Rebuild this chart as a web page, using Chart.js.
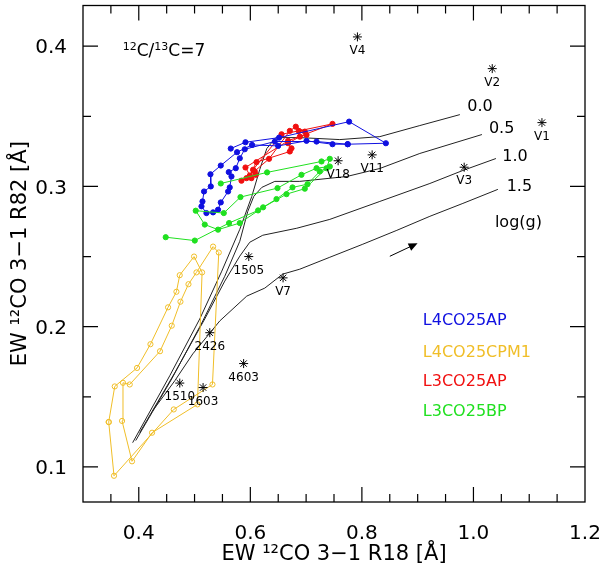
<!DOCTYPE html>
<html>
<head>
<meta charset="utf-8">
<script src="https://cdn.jsdelivr.net/npm/chart.js@4.4.0/dist/chart.umd.min.js"></script>
<style>
  html, body { margin: 0; padding: 0; background: #fff; }
  #wrap { width: 600px; height: 568px; }
</style>
</head>
<body>
<div id="wrap"><canvas id="c" width="600" height="568"></canvas></div>
<script>
// axis ticks
const xTicks = [0.3, 0.35, 0.4, 0.45, 0.5, 0.55, 0.6, 0.65, 0.7, 0.75, 0.8, 0.85, 0.9, 0.95, 1.0, 1.05, 1.1, 1.15, 1.2];
const xLabelTicks = [0.4, 0.6, 0.8, 1.0, 1.2];
const yTicks = [0.1, 0.15, 0.2, 0.25, 0.3, 0.35, 0.4];
const yLabelTicks = [0.1, 0.2, 0.3, 0.4];

// model sequences, one per log(g)
const gLabels = ['0.0', '0.5', '1.0', '1.5'];
const g00X = [0.389, 0.4555, 0.5093, 0.5488, 0.5811, 0.6026, 0.6169, 0.6295, 0.6456, 0.6887, 0.7604, 0.8322, 0.9039, 0.9757];
const g00Y = [0.1173, 0.165, 0.2055, 0.2396, 0.2694, 0.2929, 0.3121, 0.327, 0.3348, 0.3348, 0.3334, 0.3355, 0.3434, 0.3512];
const g05X = [0.3945, 0.4591, 0.5129, 0.5542, 0.5811, 0.5954, 0.6062, 0.6205, 0.6439, 0.6887, 0.773, 0.8322, 0.9039, 1.0152];
const g05Y = [0.1188, 0.1628, 0.2026, 0.236, 0.2609, 0.2822, 0.2929, 0.2993, 0.3036, 0.3036, 0.3071, 0.3128, 0.3235, 0.337];
const g10X = [0.4017, 0.4645, 0.5183, 0.5542, 0.5811, 0.599, 0.6223, 0.6833, 0.7425, 0.8322, 0.9219, 0.9811, 1.0403];
const g10Y = [0.1245, 0.1671, 0.2055, 0.2325, 0.2503, 0.2602, 0.2652, 0.2702, 0.2765, 0.2893, 0.3021, 0.3114, 0.3199];
const g15X = [0.425, 0.4645, 0.4968, 0.5452, 0.5936, 0.6259, 0.6582, 0.6887, 0.7425, 0.8017, 0.8627, 0.9219, 0.9811, 1.0438];
const g15Y = [0.1401, 0.1614, 0.1806, 0.2041, 0.2218, 0.2275, 0.2375, 0.241, 0.2495, 0.2588, 0.2687, 0.2787, 0.2879, 0.2979];
// where the log(g) values are written
const gLabelX = [0.9888, 1.0277, 1.0516, 1.0595];
const gLabelY = [0.3569, 0.341, 0.3208, 0.2995];

// observed stars
const starNames = ['V4', 'V2', 'V1', 'V3', 'V11', 'V18', 'V7', '1505', '2426', '4603', '1510', '1603'];
const starX = [0.792, 1.0337, 1.1228, 0.9834, 0.8184, 0.7574, 0.6587, 0.5972, 0.5273, 0.588, 0.4735, 0.5153];
const starY = [0.4066, 0.384, 0.3455, 0.3137, 0.3225, 0.3183, 0.2348, 0.25, 0.1957, 0.1737, 0.1598, 0.1566];

// dynamical model runs
const blueX = [0.5649, 0.5913, 0.6516, 0.7771, 0.843, 0.7748, 0.7473, 0.7007, 0.6498, 0.6031, 0.5762, 0.547, 0.5285, 0.5291, 0.517, 0.5142, 0.5124, 0.5213, 0.5332, 0.5421, 0.547, 0.5601, 0.5631, 0.5662, 0.5613, 0.5739, 0.5811, 0.59, 0.6439, 0.7187, 0.7743];
const blueY = [0.327, 0.3315, 0.3348, 0.3462, 0.3308, 0.3301, 0.3301, 0.3325, 0.3289, 0.3296, 0.3244, 0.3149, 0.3087, 0.3, 0.2964, 0.2893, 0.2858, 0.281, 0.2815, 0.2834, 0.2886, 0.2964, 0.2993, 0.3071, 0.3102, 0.313, 0.3201, 0.3265, 0.332, 0.332, 0.3301];
const yellowX = [0.3461, 0.3569, 0.3969, 0.4209, 0.4525, 0.4675, 0.4734, 0.4991, 0.5135, 0.5052, 0.4238, 0.3879, 0.37, 0.3717, 0.3838, 0.4381, 0.4591, 0.4747, 0.4891, 0.5034, 0.5332, 0.5434, 0.5321, 0.4627, 0.3556, 0.3461];
const yellowY = [0.132, 0.1574, 0.1706, 0.1875, 0.2138, 0.2249, 0.2367, 0.25, 0.2387, 0.1446, 0.1244, 0.104, 0.1328, 0.16, 0.1588, 0.1825, 0.2007, 0.2178, 0.2303, 0.2387, 0.2571, 0.2529, 0.1588, 0.141, 0.0937, 0.132];
const redX = [0.5841, 0.5931, 0.6336, 0.6708, 0.6815, 0.6977, 0.7007, 0.6888, 0.6677, 0.6738, 0.6708, 0.611, 0.599, 0.6049, 0.6559, 0.6869, 0.7473, 0.6677, 0.5913, 0.602, 0.608, 0.6098];
const redY = [0.3041, 0.3059, 0.3197, 0.3396, 0.3426, 0.3391, 0.3367, 0.3355, 0.3308, 0.3272, 0.3249, 0.3173, 0.3078, 0.3119, 0.3372, 0.3396, 0.3446, 0.3325, 0.3135, 0.3059, 0.3107, 0.3083];
const greenX = [0.4483, 0.5004, 0.5619, 0.6139, 0.6469, 0.6756, 0.7025, 0.7246, 0.7425, 0.7187, 0.6917, 0.6487, 0.5823, 0.5524, 0.5021, 0.5183, 0.5421, 0.5811, 0.6229, 0.6648, 0.6977, 0.7366, 0.7425, 0.7276, 0.63, 0.547];
const greenY = [0.2638, 0.2614, 0.2739, 0.2829, 0.291, 0.2993, 0.3016, 0.3107, 0.3142, 0.313, 0.3083, 0.2988, 0.2924, 0.281, 0.2827, 0.2728, 0.2692, 0.2739, 0.2851, 0.2945, 0.2984, 0.313, 0.3197, 0.3178, 0.31, 0.3021];

// legend (just coloured words in the plot)
const legendNames = ['L4CO25AP', 'L4CO25CPM1', 'L3CO25AP', 'L3CO25BP'];
const legendColors = ['#1010e0', '#f0be28', '#f01010', '#20e020'];
const legendX = 0.9093;
const legendY = [0.2041, 0.1813, 0.1607, 0.1394];

// other annotations
const ratioPos = [0.3712, 0.396];
const loggPos = [1.0385, 0.2737];
const arrowX = [0.8501, 0.895];
const arrowY = [0.2502, 0.2586];

const FONT = 'DejaVu Sans';
Chart.defaults.font.family = FONT;
Chart.defaults.color = '#000';

const pts = (xs, ys) => xs.map((v, i) => ({ x: v, y: ys[i] }));
const isLabel = (list, v) => list.some(t => Math.abs(t - v) < 1e-6);

function modelLine(xs, ys) {
  return { data: pts(xs, ys), showLine: true, borderColor: '#222', borderWidth: 1, pointRadius: 0, order: 5 };
}
function runLine(xs, ys, color, open) {
  return {
    data: pts(xs, ys), showLine: true, borderColor: color, borderWidth: 1,
    pointRadius: 2.6, pointBorderWidth: 1, pointBorderColor: color,
    pointBackgroundColor: open ? 'rgba(0,0,0,0)' : color, order: 2
  };
}

// frame, inward ticks and all the text written inside the plot
const overlay = {
  id: 'overlay',
  afterDatasetsDraw(chart) {
    const { ctx, chartArea: a, scales: { x, y } } = chart;
    ctx.save();
    ctx.strokeStyle = '#000';
    ctx.lineWidth = 1.3;
    ctx.strokeRect(a.left, a.top, a.right - a.left, a.bottom - a.top);

    ctx.lineWidth = 1.2;
    ctx.beginPath();
    x.ticks.forEach(t => {
      const px = x.getPixelForValue(t.value);
      if (px <= a.left + 1 || px >= a.right - 1) return;
      const len = isLabel(xLabelTicks, t.value) ? 15 : 8;
      ctx.moveTo(px, a.bottom); ctx.lineTo(px, a.bottom - len);
      ctx.moveTo(px, a.top); ctx.lineTo(px, a.top + len);
    });
    y.ticks.forEach(t => {
      const py = y.getPixelForValue(t.value);
      if (py <= a.top + 1 || py >= a.bottom - 1) return;
      const len = isLabel(yLabelTicks, t.value) ? 15 : 8;
      ctx.moveTo(a.left, py); ctx.lineTo(a.left + len, py);
      ctx.moveTo(a.right, py); ctx.lineTo(a.right - len, py);
    });
    ctx.stroke();

    ctx.fillStyle = '#000';
    ctx.textAlign = 'center';
    ctx.textBaseline = 'middle';
    ctx.font = '12px ' + FONT;
    starNames.forEach((n, i) => {
      ctx.fillText(n, x.getPixelForValue(starX[i]), y.getPixelForValue(starY[i]) + 14);
    });

    ctx.textAlign = 'left';
    ctx.font = '16px ' + FONT;
    gLabels.forEach((s, i) => {
      ctx.fillText(s, x.getPixelForValue(gLabelX[i]), y.getPixelForValue(gLabelY[i]));
    });
    ctx.fillText('log(g)', x.getPixelForValue(loggPos[0]), y.getPixelForValue(loggPos[1]));

    legendNames.forEach((s, i) => {
      ctx.fillStyle = legendColors[i];
      ctx.fillText(s, x.getPixelForValue(legendX), y.getPixelForValue(legendY[i]));
    });

    // 12C/13C=7 with raised isotope numbers
    ctx.fillStyle = '#000';
    let tx = x.getPixelForValue(ratioPos[0]);
    const ty = y.getPixelForValue(ratioPos[1]);
    const parts = [['12', true], ['C/', false], ['13', true], ['C=7', false]];
    parts.forEach(([s, sup]) => {
      ctx.font = (sup ? '11px ' : '17px ') + FONT;
      ctx.fillText(s, tx, sup ? ty - 5 : ty);
      tx += ctx.measureText(s).width;
    });

    // direction arrow
    const x0 = x.getPixelForValue(arrowX[0]), y0 = y.getPixelForValue(arrowY[0]);
    const x1 = x.getPixelForValue(arrowX[1]), y1 = y.getPixelForValue(arrowY[1]);
    const ang = Math.atan2(y1 - y0, x1 - x0);
    ctx.lineWidth = 1;
    ctx.beginPath(); ctx.moveTo(x0, y0); ctx.lineTo(x1, y1); ctx.stroke();
    ctx.beginPath();
    ctx.moveTo(x1 + 3 * Math.cos(ang), y1 + 3 * Math.sin(ang));
    ctx.lineTo(x1 - 6 * Math.cos(ang) + 4 * Math.sin(ang), y1 - 6 * Math.sin(ang) - 4 * Math.cos(ang));
    ctx.lineTo(x1 - 6 * Math.cos(ang) - 4 * Math.sin(ang), y1 - 6 * Math.sin(ang) + 4 * Math.cos(ang));
    ctx.closePath(); ctx.fill();
    ctx.restore();
  }
};

new Chart(document.getElementById('c'), {
  type: 'scatter',
  data: {
    datasets: [
      modelLine(g00X, g00Y),
      modelLine(g05X, g05Y),
      modelLine(g10X, g10Y),
      modelLine(g15X, g15Y),
      runLine(yellowX, yellowY, legendColors[1], true),
      runLine(greenX, greenY, legendColors[3], false),
      runLine(blueX, blueY, legendColors[0], false),
      runLine(redX, redY, legendColors[2], false),
      {
        data: pts(starX, starY), pointStyle: 'star', pointRadius: 4.5,
        pointBorderColor: '#000', pointBorderWidth: 1, showLine: false, order: 0
      }
    ]
  },
  options: {
    responsive: false,
    animation: false,
    layout: { padding: { top: 3.5, right: 15, left: 0, bottom: 0 } },
    plugins: { legend: { display: false }, tooltip: { enabled: false } },
    scales: {
      x: {
        type: 'linear', min: 0.3, max: 1.2,
        grid: { display: false },
        border: { display: false },
        afterBuildTicks: s => { s.ticks = xTicks.map(v => ({ value: v })); },
        afterFit: s => { s.height = 66; s.paddingLeft = 0; s.paddingRight = 0; },
        ticks: {
          autoSkip: false, maxRotation: 0, padding: 12,
          font: { size: 20 },
          callback: v => isLabel(xLabelTicks, v) ? v.toFixed(1) : ''
        },
        title: { display: true, text: 'EW ¹²CO 3−1 R18 [Å]', font: { size: 21 }, padding: { top: 0, bottom: 1 } }
      },
      y: {
        type: 'linear', min: 0.075, max: 0.429,
        grid: { display: false },
        border: { display: false },
        afterBuildTicks: s => { s.ticks = yTicks.map(v => ({ value: v })); },
        afterFit: s => { s.width = 83; s.paddingTop = 0; s.paddingBottom = 0; },
        ticks: {
          autoSkip: false, padding: 8, labelOffset: 2,
          font: { size: 20 },
          callback: v => isLabel(yLabelTicks, v) ? v.toFixed(1) : ''
        },
        title: { display: true, text: 'EW ¹²CO 3−1 R82 [Å]', font: { size: 21 }, padding: { top: 8, bottom: 0 } }
      }
    }
  },
  plugins: [overlay]
});
</script>
</body>
</html>
